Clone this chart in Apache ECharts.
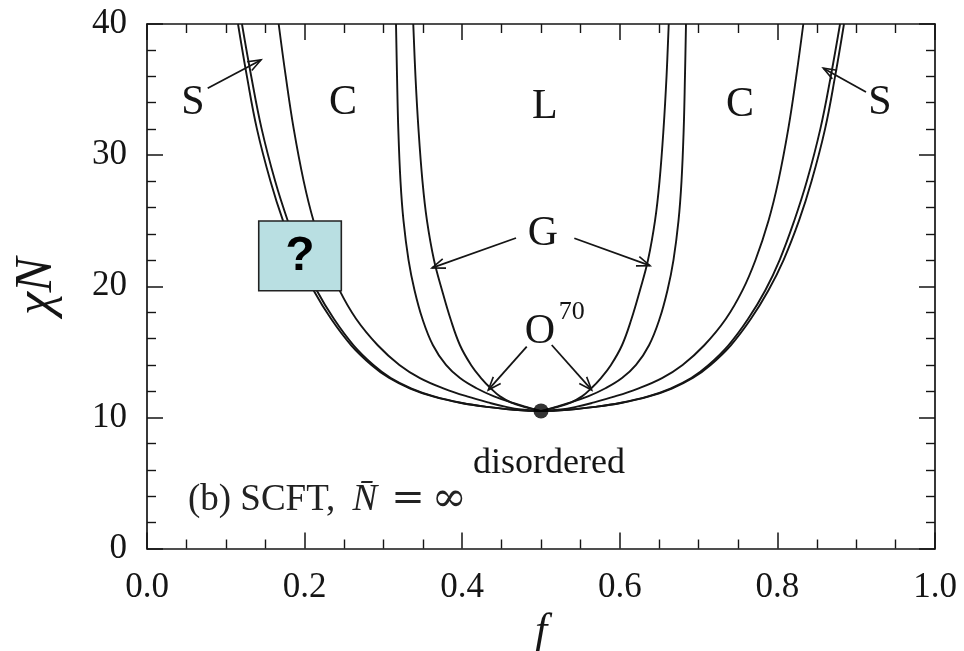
<!DOCTYPE html>
<html>
<head>
<meta charset="utf-8">
<script src="https://cdn.jsdelivr.net/npm/echarts@6/dist/echarts.min.js"></script>
<style>
html,body{margin:0;padding:0;background:#fff;}
#main{width:964px;height:651px;}
</style>
</head>
<body>
<div id="main"></div>
<script>
// ---- data: f values of each phase boundary at fixed chiN levels ----
// left branch: chiN descending from 40 to the critical point
const chiDown = [40, 36, 32, 28, 25, 22, 19.7, 17.5, 15.5, 14, 13, 12.2, 11.6, 11.1, 10.8, 10.6, 10.495];
// right branch: chiN ascending from just above the critical point back to 40
const chiUp   = [10.6, 10.8, 11.1, 11.6, 12.2, 13, 14, 15.5, 17.5, 19.7, 22, 25, 28, 32, 36, 40];

// disordered / S_cp (order-disorder transition)
const odtLeft  = [0.1155,0.1268,0.1395,0.1567,0.1726,0.1922,0.2113,0.2338,0.2591,0.2848,0.3074,0.3340,0.3627,0.3987,0.4310,0.4623,0.5];
const odtRight = [0.5377,0.5690,0.6013,0.6373,0.6660,0.6926,0.7152,0.7409,0.7662,0.7887,0.8078,0.8274,0.8433,0.8605,0.8732,0.8845];
// S_cp / S
const scpLeft  = [0.1205,0.1323,0.1455,0.1627,0.1786,0.1972,0.2153,0.2373,0.2621,0.2873,0.3094,0.3358,0.3642,0.3999,0.4320,0.4631,0.5];
const scpRight = [0.5369,0.5680,0.6001,0.6358,0.6642,0.6906,0.7127,0.7379,0.7627,0.7847,0.8028,0.8214,0.8373,0.8545,0.8677,0.8795];
// S / C
const scLeft   = [0.1671,0.1761,0.1862,0.1989,0.2113,0.2278,0.2442,0.2655,0.2928,0.3203,0.3464,0.3769,0.4061,0.4353,0.4556,0.4746,0.5];
const scRight  = [0.5254,0.5444,0.5647,0.5939,0.6231,0.6536,0.6797,0.7072,0.7345,0.7558,0.7722,0.7887,0.8011,0.8138,0.8239,0.8329];
// C / G (C / O70 near the bottom)
const cgLeft   = [0.3160,0.3173,0.3189,0.3217,0.3255,0.3319,0.3395,0.3496,0.3629,0.3794,0.3972,0.4188,0.4404,0.4645,0.4810,0.4924,0.5];
const cgRight  = [0.5076,0.5190,0.5355,0.5596,0.5812,0.6028,0.6206,0.6371,0.6504,0.6605,0.6681,0.6745,0.6783,0.6811,0.6827,0.6840];
// G / L (O70 / L near the bottom)
const glLeft   = [0.3379,0.3407,0.3445,0.3496,0.3553,0.3642,0.3744,0.3852,0.3972,0.4112,0.4239,0.4365,0.4480,0.4632,0.4784,0.4911,0.5];
const glRight  = [0.5089,0.5216,0.5368,0.5520,0.5635,0.5761,0.5888,0.6028,0.6148,0.6256,0.6358,0.6447,0.6504,0.6555,0.6593,0.6621];

const criticalPoint = [[0.5, 10.495]];

const xTicks = {min:0, max:1, interval:0.2};
const yTicks = {min:0, max:40, interval:10};

// annotation anchors (data units)
const phaseLabels = [
  {t:'S', at:[0.0584,33.98]}, {t:'C', at:[0.2487,33.98]}, {t:'L', at:[0.505,33.7]},
  {t:'C', at:[0.7525,33.85]}, {t:'S', at:[0.930,33.98]}, {t:'G', at:[0.5025,24.0]},
  {t:'O', at:[0.4987,16.5]}
];
const arrows = [
  {from:[0.077,35.1],  to:[0.1447,37.26]},
  {from:[0.9124,34.82],to:[0.8582,36.63]},
  {from:[0.4683,23.68],to:[0.3617,21.4]},
  {from:[0.5423,23.66],to:[0.6383,21.57]},
  {from:[0.4819,15.39],to:[0.4331,12.09]},
  {from:[0.5136,15.52],to:[0.5643,12.09]}
];
const questionBox = {lt:[0.1418,24.98], rb:[0.2466,19.66]};

const serif = '"Liberation Serif","Times New Roman",serif';
const mathSerif = '"DejaVu Serif",serif';
const ink = '#151515';

function branch(leftF, rightF){
  const pts = leftF.map((f,i)=>[f, chiDown[i]]);
  return pts.concat(rightF.map((f,i)=>[f, chiUp[i]]));
}

const chart = echarts.init(document.getElementById('main'), null, {renderer:'canvas'});

function axisCommon(showLabel, split){
  return {
    axisLine:{show:true, onZero:false, lineStyle:{color:ink, width:1.7}},
    axisTick:{show:true, inside:true, length:16, lineStyle:{color:ink, width:1.5}},
    minorTick:{show:true, splitNumber:split, length:9, lineStyle:{color:ink, width:1.4}},
    splitLine:{show:false}, minorSplitLine:{show:false},
    axisLabel:{show:showLabel, color:ink, fontFamily:serif, fontSize:35}
  };
}

function lineSeries(d){
  return {type:'line', data:d, smooth:0.4, showSymbol:false, symbol:'none',
          lineStyle:{color:ink, width:1.9}, z:2, silent:true};
}

const xBottom = Object.assign({type:'value', position:'bottom', min:xTicks.min, max:xTicks.max, interval:xTicks.interval,
      name:'f', nameLocation:'middle', nameGap:58,
      nameTextStyle:{fontFamily:serif, fontStyle:'italic', fontSize:44, color:ink}}, axisCommon(true,4));
xBottom.axisLabel = {show:true, color:ink, fontFamily:serif, fontSize:35, margin:22, formatter:v=>v.toFixed(1)};
const xTop = Object.assign({type:'value', position:'top', min:xTicks.min, max:xTicks.max, interval:xTicks.interval}, axisCommon(false,4));
const yLeft = Object.assign({type:'value', position:'left', min:yTicks.min, max:yTicks.max, interval:yTicks.interval,
      name:'χN', nameLocation:'middle', nameGap:84, nameRotate:90,
      nameTextStyle:{fontFamily:serif, fontStyle:'italic', fontSize:52, color:ink}}, axisCommon(true,5));
yLeft.axisLabel = {show:true, color:ink, fontFamily:serif, fontSize:35, margin:20};
const yRight = Object.assign({type:'value', position:'right', min:yTicks.min, max:yTicks.max, interval:yTicks.interval}, axisCommon(false,5));

const option = {
  animation:false,
  grid:{left:147, right:29, top:24, bottom:102.5, containLabel:false, outerBoundsMode:'none'},
  xAxis:[xBottom, xTop],
  yAxis:[yLeft, yRight],
  series:[
    lineSeries(branch(odtLeft, odtRight)),
    lineSeries(branch(scpLeft, scpRight)),
    lineSeries(branch(scLeft, scRight)),
    lineSeries(branch(cgLeft, cgRight)),
    lineSeries(branch(glLeft, glRight)),
    {type:'scatter', data:criticalPoint, symbol:'circle', symbolSize:15, itemStyle:{color:'#000'}, z:5, silent:true}
  ]
};
chart.setOption(option);

function px(p){ return chart.convertToPixel({gridIndex:0}, p); }

const g = [];
phaseLabels.forEach(l=>{
  const p = px(l.at);
  g.push({type:'text', x:p[0], y:p[1], z:50, silent:true,
    style:{text:l.t, fontFamily:serif, fontSize:42, fill:ink, align:'center', verticalAlign:'middle'}});
});
(function(){
  const p = px([0.539,18.06]);
  g.push({type:'text', x:p[0], y:p[1], z:50, silent:true,
    style:{text:'70', fontFamily:serif, fontSize:26, fill:ink, align:'center', verticalAlign:'middle'}});
})();
(function(){
  const p = px([0.5102,6.45]);
  g.push({type:'text', x:p[0], y:p[1], z:50, silent:true,
    style:{text:'disordered', fontFamily:serif, fontSize:36, fill:ink, align:'center', verticalAlign:'middle'}});
})();
(function(){
  const p = px([0.052,3.7]);
  g.push({type:'text', x:p[0], y:p[1], z:50, silent:true,
    style:{text:'{a|(b) SCFT, }{b|N\u0304}{c|=}{d|∞}', align:'left', verticalAlign:'middle',
      rich:{a:{fontFamily:serif, fontSize:37, fill:'#222'},
            b:{fontFamily:serif, fontSize:37, fontStyle:'italic', fill:'#222', padding:[0,0,0,8]},
            c:{fontFamily:mathSerif, fontSize:40, fill:'#222', padding:[0,0,0,14]},
            d:{fontFamily:mathSerif, fontSize:42, fill:'#222', padding:[0,0,0,7]}}}});
})();
arrows.forEach(a=>{
  const p0 = px(a.from), p1 = px(a.to);
  const ang = Math.atan2(p1[1]-p0[1], p1[0]-p0[0]);
  const L = 14, h = 0.36;
  const q1 = [p1[0]-L*Math.cos(ang-h), p1[1]-L*Math.sin(ang-h)];
  const q2 = [p1[0]-L*Math.cos(ang+h), p1[1]-L*Math.sin(ang+h)];
  g.push({type:'line', z:40, silent:true, shape:{x1:p0[0],y1:p0[1],x2:p1[0],y2:p1[1]}, style:{stroke:ink, lineWidth:1.8}});
  g.push({type:'polyline', z:40, silent:true, shape:{points:[q1,p1,q2]}, style:{stroke:ink, lineWidth:1.6, fill:null}});
});
(function(){
  const a = px(questionBox.lt), b = px(questionBox.rb);
  g.push({type:'rect', z:60, silent:true, shape:{x:a[0], y:a[1], width:b[0]-a[0], height:b[1]-a[1]},
    style:{fill:'#b9dfe2', stroke:'#222', lineWidth:1.6}});
  g.push({type:'text', z:61, silent:true, x:(a[0]+b[0])/2, y:(a[1]+b[1])/2+1,
    style:{text:'?', fontFamily:'"Liberation Sans",Arial,sans-serif', fontWeight:'bold', fontSize:48, fill:'#000', align:'center', verticalAlign:'middle'}});
})();
chart.setOption({graphic:g});
</script>
</body>
</html>
